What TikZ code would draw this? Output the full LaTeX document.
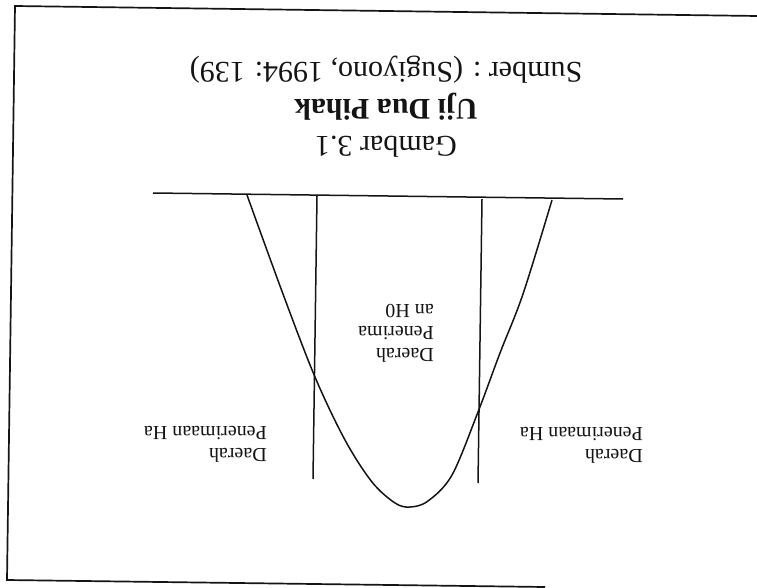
\documentclass[tikz,border=0pt]{standalone}
\usepackage{fontspec}
\setmainfont{Liberation Serif}
\usepackage{xcolor}
\usetikzlibrary{positioning}
\definecolor{ink}{HTML}{141414}
\tikzset{
  frm/.style={draw=ink,line width=1.7pt},
  rule/.style={draw=ink,line width=1.5pt},
  crv/.style={draw=ink,line width=1.5pt,line join=round},
  ttl/.style={rotate=180,align=center,anchor=north,inner sep=0pt,text=ink,font=\fontsize{30}{37}\selectfont},
  lbl/.style={rotate=180,align=left,anchor=north west,inner sep=0pt,text=ink,font=\fontsize{20}{22}\selectfont},
}

\begin{document}
\begin{tikzpicture}[x=1pt,y=-1pt]
\useasboundingbox (0,0) rectangle (757,588);

% ---- frame (the page is scanned upside down)
\draw[frm] (757,16) -- (15,6) -- (7,580) -- (545,587);

% ---- caption
\node[ttl] (capt) at (386,158) {Gambar 3.1\\\textbf{Uji Dua Pihak}\\Sumber : (Sugiyono, 1994: 139)};

% ---- axis and critical values
\draw[rule] (153,193) -- (623,199);
\draw[rule] (317,196) -- (313,479);
\draw[rule] (482,199) -- (478,483);

% ---- curve
\draw[crv] plot[smooth,tension=0.55] coordinates {(247,195) (283,294) (315,377) (345,440) (372,482) (395,503) (410,507) (428,501) (452,475) (478,412) (500,353) (523,294) (552,200)};

% ---- regions
\node[lbl] (mid) at (434,363) {Daerah\\Penerima\\an H0};
\node[lbl] (lft) at (267,463) {Daerah\\Penerimaan Ha};
\node[lbl] (rgt) at (643,464) {Daerah\\Penerimaan Ha};

\end{tikzpicture}
\end{document}
